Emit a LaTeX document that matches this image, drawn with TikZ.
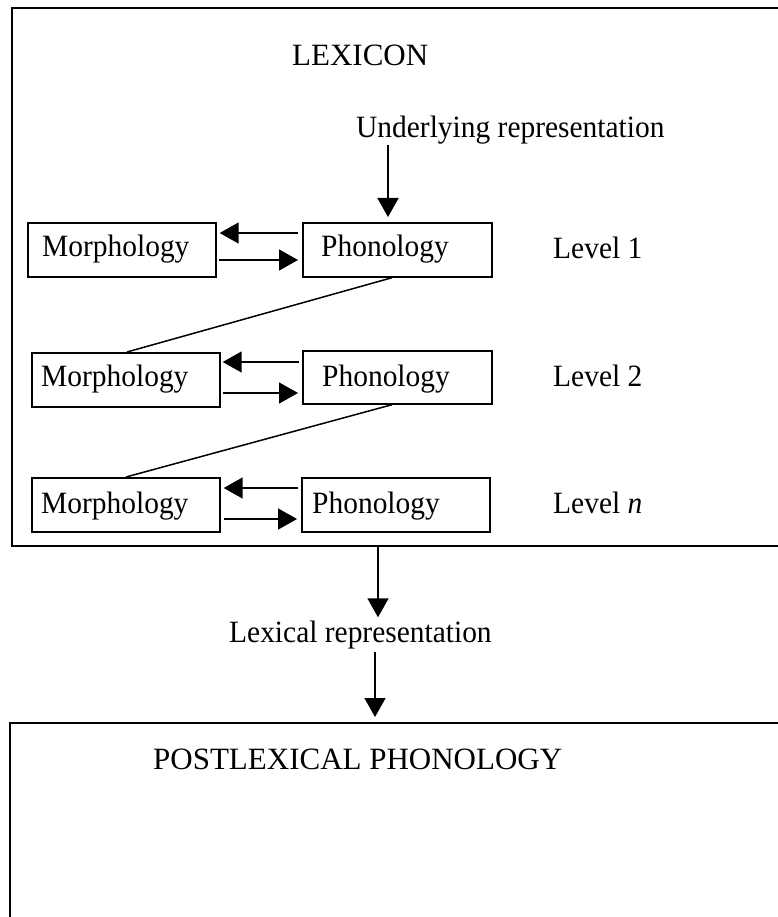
\documentclass[tikz,border=0pt]{standalone}
\usepackage{fontspec}
\setmainfont{Liberation Serif}[FakeStretch=0.95]
\newfontfamily\capsfont{Liberation Serif}
\usetikzlibrary{arrows.meta,calc}
\begin{document}
\begin{tikzpicture}[x=1pt,y=-1pt,
  box/.style={draw, line width=1.7pt, inner sep=0pt, anchor=north west},
  bigbox/.style={draw, line width=2pt, inner sep=0pt, anchor=north west},
  txt/.style={anchor=base west, inner sep=0pt, font=\fontsize{31}{37}\selectfont},
  captxt/.style={anchor=base west, inner sep=0pt, font={\capsfont\fontsize{31}{37}\selectfont}},
  arr/.style={line width=1.5pt, -{Triangle[length=19pt,width=21pt]}},
  link/.style={line width=1.5pt}]
\useasboundingbox (0,0) rectangle (777,917);

% outer frames
\node[bigbox, minimum width=820pt, minimum height=538pt] (lex) at (11,7) {};
\node[bigbox, minimum width=820pt, minimum height=260pt] (post) at (9,722) {};

% level boxes
\node[box, minimum width=188pt, minimum height=54pt] (M1) at (27,222) {};
\node[box, minimum width=189pt, minimum height=54pt] (P1) at (302,222) {};
\node[box, minimum width=188pt, minimum height=54pt] (M2) at (31,352) {};
\node[box, minimum width=189pt, minimum height=53pt] (P2) at (302,350) {};
\node[box, minimum width=188pt, minimum height=54pt] (M3) at (31,477) {};
\node[box, minimum width=188pt, minimum height=54pt] (P3) at (301,477) {};

% texts
\node[captxt] (lexlabel) at (292,66) {LEXICON};
\node[txt] (ur) at (356,138) {Underlying representation};
\node[txt] (m1t) at (42,256) {Morphology};
\node[txt] (p1t) at (321,256) {Phonology};
\node[txt] (l1t) at (553,258) {Level 1};
\node[txt] (m2t) at (41,386) {Morphology};
\node[txt] (p2t) at (322,386) {Phonology};
\node[txt] (l2t) at (553,386) {Level 2};
\node[txt] (m3t) at (41,513) {Morphology};
\node[txt] (p3t) at (312,513) {Phonology};
\node[txt] (l3t) at (553,513) {Level \textit{n}};
\node[txt] (lr) at (229,642) {Lexical representation};
\node[captxt] (postlabel) at (153,769) {POSTLEXICAL PHONOLOGY};

% underlying arrow
\coordinate (P1t) at ($(P1.north west)+(86,-5)$);
\draw[arr] (P1t |- ur.south) -- (P1t);

% level 1 arrows
\draw[arr] ($(P1.north west)+(-4,11)$) -- ($(M1.north east)+(3,11)$);
\draw[arr] ($(M1.north east)+(2,38)$) -- ($(P1.north west)+(-4,38)$);
% level 2 arrows
\draw[arr] ($(P2.north west)+(-3,12)$) -- ($(M2.north east)+(2,10)$);
\draw[arr] ($(M2.north east)+(2,41)$) -- ($(P2.north west)+(-4,43)$);
% level n arrows
\draw[arr] ($(P3.north west)+(-3,11)$) -- ($(M3.north east)+(3,11)$);
\draw[arr] ($(M3.north east)+(3,42)$) -- ($(P3.north west)+(-4,42)$);

% diagonal links
\draw[link] ($(P1.south west)+(90,0)$) -- ($(M2.north west)+(96,0)$);
\draw[link] ($(P2.south west)+(90,0)$) -- ($(M3.north west)+(95,0)$);

% lexicon -> lexical representation -> postlexical
\coordinate (a1) at ($(lex.south west)+(367,0)$);
\draw[arr, shorten >=3pt] (a1) -- (a1 |- lr.north);
\coordinate (a2) at ($(post.north west)+(366,0)$);
\draw[arr, shorten <=3pt, shorten >=5pt] (a2 |- lr.south) -- (a2);
\end{tikzpicture}
\end{document}
